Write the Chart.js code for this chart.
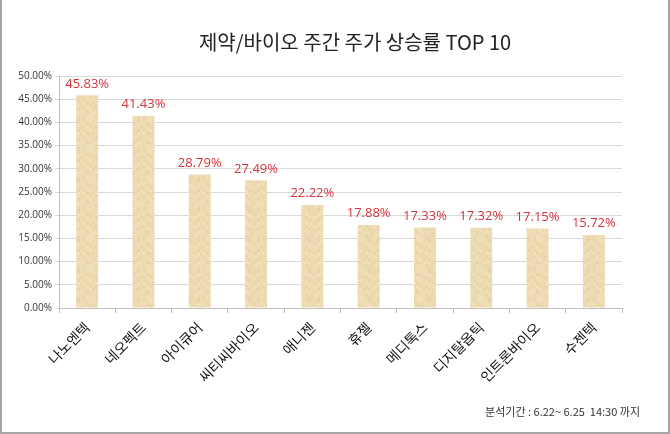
<!DOCTYPE html>
<html>
<head>
<meta charset="utf-8">
<script src="https://cdn.jsdelivr.net/npm/chart.js@4.4.1/dist/chart.umd.min.js"></script>
<style>
  html, body { margin: 0; padding: 0; background: #fff; }
  #wrap {
    position: relative;
    width: 670px;
    height: 434px;
    box-sizing: border-box;
    border-left: 2px solid #a6a6a6;
    border-right: 2px solid #a6a6a6;
    border-bottom: 2px solid #a6a6a6;
  }
  canvas { display: block; }
</style>
</head>
<body>
<div id="wrap"><canvas id="chart" width="666" height="432"></canvas></div>
<script>
// --- Data ---
const titleText = '제약/바이오 주간 주가 상승률 TOP 10';
const footerText = '분석기간 : 6.22~ 6.25  14:30 까지';
const companies = ['나노엔텍', '네오펙트', '아이큐어', '씨티씨바이오', '애니젠', '휴젤', '메디톡스', '디지탈옵틱', '인트론바이오', '수젠텍'];
const weeklyGain = [45.83, 41.43, 28.79, 27.49, 22.22, 17.88, 17.33, 17.32, 17.15, 15.72];
const yTickStep = 5;
const yMax = 50;

const latinFont = "'Open Sans', 'Noto Sans CJK KR', sans-serif";
const koreanFont = "'Noto Sans CJK KR', 'Open Sans', sans-serif";

// parchment-like fill for the bars (soft mottling, no stripes)
function makeParchment() {
    const c = document.createElement('canvas');
    c.width = 30; c.height = 30;
    const g = c.getContext('2d');
    g.fillStyle = '#eedbb2';
    g.fillRect(0, 0, 30, 30);
    for (let y = 0; y < 30; y += 3) {
        for (let x = 0; x < 30; x += 3) {
            const v = Math.sin(x * 0.73 + Math.sin(y * 0.51) * 3) * Math.cos(y * 0.37 + Math.cos(x * 0.29) * 2);
            g.fillStyle = v > 0 ? 'rgba(250,240,215,' + (v * 0.3) + ')' : 'rgba(205,175,120,' + (-v * 0.18) + ')';
            g.fillRect(x, y, 3, 3);
        }
    }
    return g.createPattern(c, 'repeat');
}

// text drawn around the chart: title, value labels, footer
const decorations = {
    id: 'decorations',
    afterDatasetsDraw(chart) {
        const ctx = chart.ctx;
        const meta = chart.getDatasetMeta(0);
        ctx.save();
        ctx.fillStyle = '#d2343c';
        ctx.font = '13px ' + latinFont;
        ctx.textAlign = 'center';
        ctx.textBaseline = 'bottom';
        meta.data.forEach((bar, i) => {
            ctx.fillText(weeklyGain[i].toFixed(2) + '%', bar.x, bar.y - 5);
        });

        ctx.fillStyle = '#222';
        ctx.font = '20px ' + koreanFont;
        ctx.textBaseline = 'middle';
        ctx.fillText(titleText, 353, 42);

        ctx.fillStyle = '#333';
        ctx.font = '11px ' + koreanFont;
        ctx.textAlign = 'right';
        ctx.fillText(footerText, 638, 412);
        ctx.restore();
    }
};

new Chart(document.getElementById('chart'), {
    type: 'bar',
    data: {
        labels: companies,
        datasets: [{
            data: weeklyGain,
            backgroundColor: makeParchment(),
            borderWidth: 0,
            barPercentage: 0.39,
            categoryPercentage: 1.0
        }]
    },
    options: {
        responsive: false,
        animation: false,
        devicePixelRatio: 1,
        layout: { padding: { top: 76, right: 46, bottom: 0, left: 0 } },
        plugins: {
            legend: { display: false },
            tooltip: { enabled: false }
        },
        scales: {
            x: {
                afterFit: s => { s.height = 124; },
                grid: {
                    offset: true,
                    drawOnChartArea: false,
                    tickLength: 5,
                    color: '#bfbfbf'
                },
                border: { color: '#bfbfbf' },
                ticks: {
                    minRotation: 45,
                    maxRotation: 45,
                    padding: 6,
                    color: '#111',
                    font: { family: koreanFont, size: 14 }
                }
            },
            y: {
                min: 0,
                max: yMax,
                afterFit: s => { s.width = 57; },
                grid: { color: '#d9d9d9', tickLength: 4 },
                border: { color: '#bfbfbf' },
                ticks: {
                    stepSize: yTickStep,
                    padding: 3,
                    color: '#333',
                    font: { family: latinFont, size: 10 },
                    callback: v => v.toFixed(2) + '%'
                }
            }
        }
    },
    plugins: [decorations]
});
</script>
</body>
</html>
